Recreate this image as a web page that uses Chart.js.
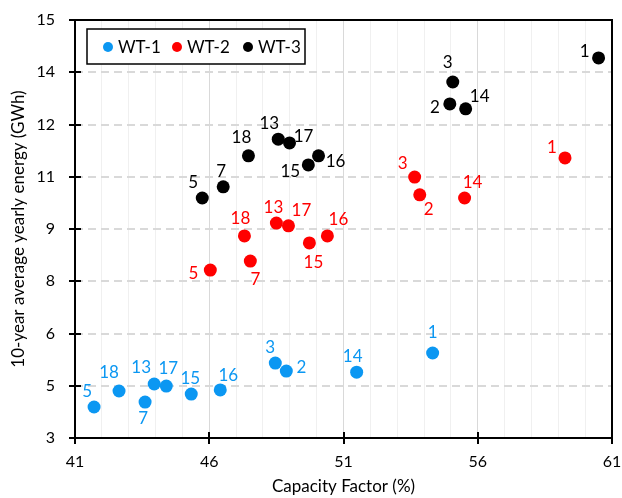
<!DOCTYPE html>
<html>
<head>
<meta charset="utf-8">
<script src="https://cdn.jsdelivr.net/npm/chart.js@4"></script>
<style>
  html, body { margin: 0; padding: 0; background: #fff; }
  #wrap { width: 622px; height: 498px; }
</style>
</head>
<body>
<div id="wrap"><canvas id="cfChart" width="622" height="498"></canvas></div>
<script>
// turbine ids (same order in every series)
const turbineIds = ["1", "2", "3", "5", "7", "13", "14", "15", "16", "17", "18"];

// capacity factor (%) and 10-year average yearly energy (GWh)
const wt1X = [54.32, 48.87, 48.46, 41.71, 43.61, 43.95, 51.49, 45.33, 46.41, 44.40, 42.64];
const wt1Y = [5.44, 4.92, 5.15, 3.89, 4.03, 4.55, 4.89, 4.26, 4.38, 4.49, 4.35];
const wt2X = [59.25, 53.84, 53.65, 46.04, 47.53, 48.50, 55.51, 49.73, 50.40, 48.95, 47.31];
const wt2Y = [11.04, 9.98, 10.49, 7.82, 8.08, 9.17, 9.89, 8.60, 8.80, 9.09, 8.80];
const wt3X = [60.50, 54.96, 55.07, 45.74, 46.52, 48.57, 55.55, 49.69, 50.07, 48.99, 47.46];
const wt3Y = [13.91, 12.59, 13.22, 9.89, 10.21, 11.58, 12.45, 10.84, 11.10, 11.47, 11.10];

const seriesNames = ["WT-1", "WT-2", "WT-3"];
const seriesColors = ["#0B97F2", "#FF0000", "#000000"];

// where each data label sits relative to its point (px)
const wt1LabelOffsets = [[0,-20],[15,-4],[-5,-16],[-7,-15],[-2,16],[-13,-16],[-4,-16],[-1,-16],[8,-14],[2,-18],[-10,-18]];
const wt2LabelOffsets = [[-13,-10],[9,15],[-12,-14],[-17,3],[5,18],[-3,-16],[8,-15],[4,20],[11,-16],[13,-15],[-4,-17]];
const wt3LabelOffsets = [[-14,-6],[-15,4],[-5,-19],[-9,-15],[-2,-15],[-9,-16],[14,-12],[-18,7],[17,6],[14,-6],[-7,-18]];

const FONT = "Lato, 'Open Sans', sans-serif";

const toPoints = (xs, ys) => xs.map((x, i) => ({ x: x, y: ys[i] }));

const datasets = [
    { label: seriesNames[0], data: toPoints(wt1X, wt1Y), offsets: wt1LabelOffsets },
    { label: seriesNames[1], data: toPoints(wt2X, wt2Y), offsets: wt2LabelOffsets },
    { label: seriesNames[2], data: toPoints(wt3X, wt3Y), offsets: wt3LabelOffsets }
].map((ds, i) => ({
    ...ds,
    backgroundColor: seriesColors[i],
    borderColor: seriesColors[i],
    pointRadius: 6.5,
    pointHoverRadius: 6.5,
    borderWidth: 0
}));

// frame with crossing tick marks
const axisFrame = {
    id: "axisFrame",
    afterDraw(chart) {
        const ctx = chart.ctx;
        const a = chart.chartArea;
        const xs = chart.scales.x;
        const ys = chart.scales.y;
        const L = Math.round(a.left), R = Math.round(a.right);
        const T = Math.round(a.top), B = Math.round(a.bottom);
        ctx.save();
        ctx.setLineDash([]);
        ctx.globalAlpha = 1;
        ctx.strokeStyle = "#000000";
        ctx.lineWidth = 2;
        ctx.beginPath();
        ctx.moveTo(L, T);
        ctx.lineTo(R, T);
        ctx.lineTo(R, B);
        ctx.lineTo(L, B);
        ctx.closePath();
        for (let k = 0; k <= 8; k++) {
            const py = Math.round(ys.getPixelForValue(3 + k * 1.5));
            ctx.moveTo(L - 6, py);
            ctx.lineTo(L + 6, py);
        }
        for (let v = 41; v <= 61; v += 5) {
            const px = Math.round(xs.getPixelForValue(v));
            ctx.moveTo(px, B - 6);
            ctx.lineTo(px, B + 6);
        }
        ctx.stroke();
        ctx.restore();
    }
};

// data labels and the boxed legend
const decorations = {
    id: "decorations",
    afterDatasetsDraw(chart) {
        const ctx = chart.ctx;
        ctx.save();
        ctx.font = "17px " + FONT;
        ctx.textAlign = "center";
        ctx.textBaseline = "middle";
        chart.data.datasets.forEach((ds, di) => {
            ctx.fillStyle = ds.backgroundColor;
            chart.getDatasetMeta(di).data.forEach((pt, i) => {
                const off = ds.offsets[i];
                ctx.fillText(turbineIds[i], pt.x + off[0], pt.y + off[1]);
            });
        });

        const box = { x: 87, y: 29, w: 218, h: 35 };
        ctx.fillStyle = "#fff";
        ctx.fillRect(box.x, box.y, box.w, box.h);
        ctx.strokeStyle = "#000";
        ctx.lineWidth = 1.5;
        ctx.strokeRect(box.x, box.y, box.w, box.h);
        ctx.textAlign = "left";
        const itemX = [108, 177, 248];
        chart.data.datasets.forEach((ds, di) => {
            const cy = box.y + box.h / 2 + 0.5;
            ctx.fillStyle = ds.backgroundColor;
            ctx.beginPath();
            ctx.arc(itemX[di], cy, 5, 0, Math.PI * 2);
            ctx.fill();
            ctx.fillStyle = "#000";
            ctx.fillText(ds.label, itemX[di] + 10, cy + 1);
        });
        ctx.restore();
    }
};

new Chart(document.getElementById("cfChart").getContext("2d"), {
    type: "scatter",
    data: { datasets: datasets },
    options: {
        responsive: false,
        animation: false,
        events: [],
        layout: { padding: { top: 20, right: 10, left: 0, bottom: 0 } },
        plugins: {
            legend: { display: false },
            tooltip: { enabled: false }
        },
        scales: {
            x: {
                type: "linear",
                min: 41,
                max: 61,
                afterFit: s => { s.height = 60; s.paddingLeft = 0; s.paddingRight = 0; },
                border: { display: false },
                grid: {
                    drawTicks: false,
                    lineWidth: 1,
                    color: c => ((c.tick.value - 41) % 5 === 0 ? "#D9D9D9" : "#F0F0F0")
                },
                ticks: {
                    stepSize: 1,
                    padding: 14,
                    color: "#000",
                    font: { family: FONT, size: 16 },
                    autoSkip: false,
                    maxRotation: 0,
                    callback: v => ((v - 41) % 5 === 0 ? String(v) : "")
                },
                title: {
                    display: true,
                    text: "Capacity Factor (%)",
                    color: "#000",
                    font: { family: FONT, size: 17 },
                    padding: { top: 0, bottom: 1 }
                }
            },
            y: {
                type: "linear",
                min: 3,
                max: 15,
                afterFit: s => { s.width = 75; s.paddingTop = 0; s.paddingBottom = 0; },
                border: { display: false, dash: [8, 5] },
                grid: {
                    drawTicks: false,
                    lineWidth: 2,
                    color: "#D9D9D9"
                },
                ticks: {
                    stepSize: 1.5,
                    padding: 20,
                    color: "#000",
                    font: { family: FONT, size: 16 },
                    callback: v => String(Math.round(v))
                },
                title: {
                    display: true,
                    text: "10-year average yearly energy (GWh)",
                    color: "#000",
                    font: { family: FONT, size: 17 },
                    padding: { top: 8, bottom: 0 }
                }
            }
        }
    },
    plugins: [axisFrame, decorations]
});
</script>
</body>
</html>
